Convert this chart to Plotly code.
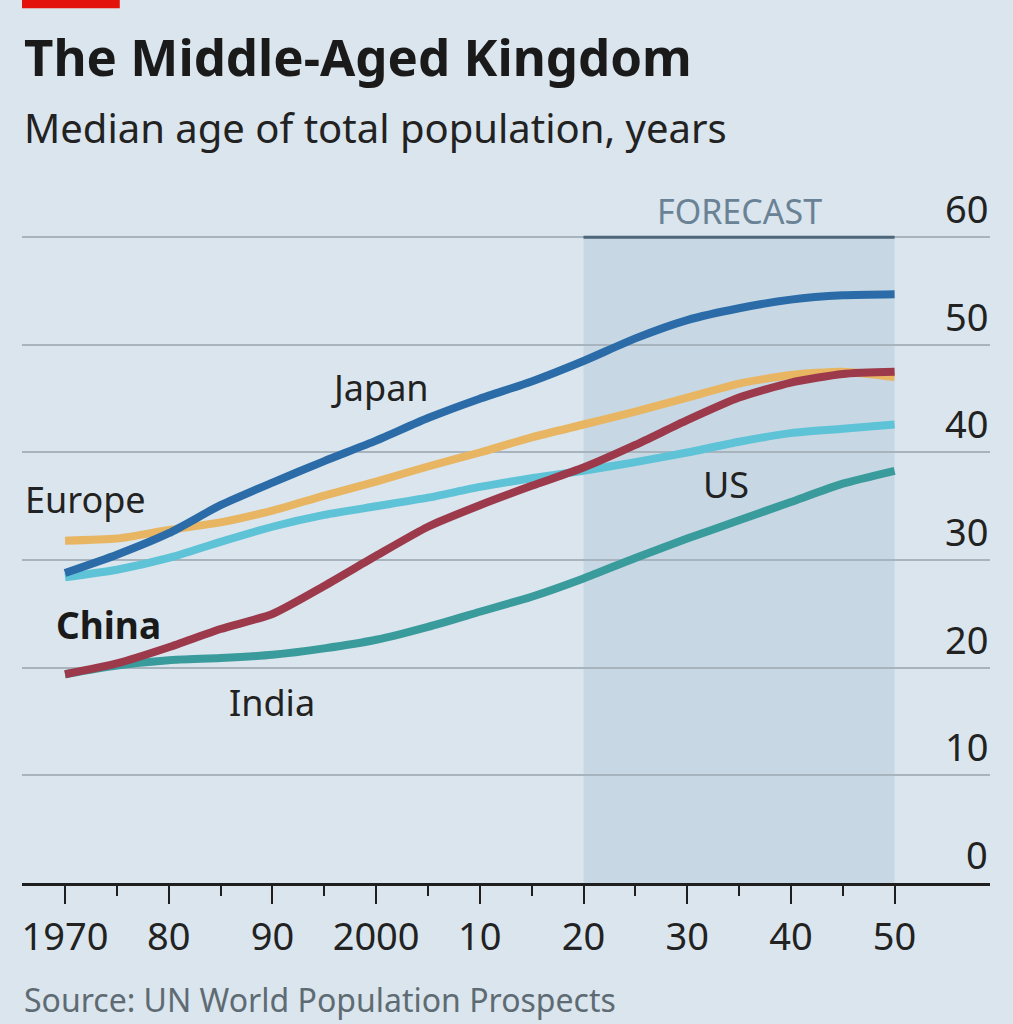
import plotly.graph_objects as go

# median age, years (2020 onwards is UN forecast)
years = [1970, 1975, 1980, 1985, 1990, 1995, 2000, 2005, 2010,
         2015, 2020, 2025, 2030, 2035, 2040, 2045, 2050]
india = [19.4, 20.2, 20.7, 20.9, 21.2, 21.8, 22.6, 23.8, 25.2,
         26.6, 28.3, 30.2, 32.0, 33.7, 35.4, 37.1, 38.3]
us = [28.4, 29.1, 30.2, 31.7, 33.1, 34.2, 35.0, 35.8, 36.8,
      37.6, 38.3, 39.1, 40.0, 41.0, 41.8, 42.2, 42.6]
europe = [31.8, 32.0, 32.8, 33.5, 34.6, 36.0, 37.3, 38.7, 40.0,
          41.4, 42.6, 43.8, 45.1, 46.4, 47.2, 47.5, 47.0]
japan = [28.8, 30.5, 32.5, 35.1, 37.2, 39.2, 41.1, 43.2, 45.0,
         46.6, 48.5, 50.6, 52.3, 53.4, 54.2, 54.6, 54.7]
china = [19.4, 20.4, 21.9, 23.6, 25.0, 27.6, 30.4, 33.1, 35.1,
         36.9, 38.6, 40.7, 43.0, 45.1, 46.5, 47.3, 47.5]

decades = [1970, 1980, 1990, 2000, 2010, 2020, 2030, 2040, 2050]
decade_labels = ["1970", "80", "90", "2000", "10", "20", "30", "40", "50"]
half_decades = [1975, 1985, 1995, 2005, 2015, 2025, 2035, 2045]
y_ticks = [0, 10, 20, 30, 40, 50, 60]
forecast_start, forecast_end = 2020, 2050

BG = "#dae5ed"
SHADE = "#c7d8e4"
FONT = "Noto Sans"

series = [
    ("India", india, "#3a9b9c"),
    ("US", us, "#5ec3d6"),
    ("Europe", europe, "#e8b562"),
    ("Japan", japan, "#2b6ca8"),
    ("China", china, "#9c3a4b"),
]

fig = go.Figure()
for name, vals, col in series:
    fig.add_trace(go.Scatter(x=years, y=vals, mode="lines", name=name,
                             line=dict(color=col, width=8, shape="spline", smoothing=0.6)))

# forecast band
fig.add_shape(type="rect", x0=forecast_start, x1=forecast_end, y0=0, y1=60,
              fillcolor=SHADE, line_width=0, layer="below")
fig.add_shape(type="line", x0=forecast_start, x1=forecast_end, y0=60, y1=60,
              line=dict(color="#4d667a", width=3))
# red tag top-left
fig.add_shape(type="rect", xref="paper", yref="paper", x0=0, x1=0.101,
              y0=1.348, y1=1.37, fillcolor="#e3120b", line_width=0)

ann = []
for v in y_ticks:
    ann.append(dict(x=1, xref="paper", y=v, yref="y", text=str(v), showarrow=False,
                    xanchor="right", yanchor="bottom", yshift=1,
                    font=dict(size=38, color="#222222")))

lab = dict(showarrow=False, font=dict(family=FONT, size=36, color="#222222"))
ann += [
    dict(x=2000.4, y=46.0, text="Japan", **lab),
    dict(x=1965.9, y=35.6, text="Europe", xanchor="left", **lab),
    dict(x=1968.9, y=24.0, text="<b>China</b>", xanchor="left", showarrow=False,
         font=dict(family=FONT, size=37, color="#1a1a1a")),
    dict(x=1990, y=16.8, text="India", **lab),
    dict(x=2033.7, y=37.0, text="US", **lab),
    dict(x=2035, y=1.035, yref="paper", text="FORECAST", showarrow=False,
         yanchor="middle", font=dict(family=FONT, size=34, color="#6a8295")),
    dict(x=0, xref="paper", y=1.274, yref="paper", text="<b>The Middle-Aged Kingdom</b>",
         xanchor="left", yanchor="middle", showarrow=False,
         font=dict(family=FONT, size=51, color="#1a1a1a")),
    dict(x=0, xref="paper", y=1.164, yref="paper", text="Median age of total population, years",
         xanchor="left", yanchor="middle", showarrow=False,
         font=dict(family=FONT, size=40, color="#222222")),
    dict(x=0, xref="paper", y=-0.18, yref="paper", text="Source: UN World Population Prospects",
         xanchor="left", yanchor="middle", showarrow=False,
         font=dict(family=FONT, size=32, color="#5f6b73")),
]

fig.update_layout(
    width=1013, height=1024,
    margin=dict(l=22, r=23, t=234, b=141),
    paper_bgcolor=BG, plot_bgcolor=BG,
    showlegend=False,
    font=dict(family=FONT, color="#222222"),
    annotations=ann,
)
fig.update_xaxes(range=[1965.85, 2059.2], showgrid=False, zeroline=False,
                 showline=True, linecolor="#1f1f1f", linewidth=3,
                 tickvals=decades, ticktext=decade_labels, ticks="outside",
                 ticklen=18, tickwidth=2, tickcolor="#1f1f1f",
                 tickfont=dict(size=38, color="#222222"),
                 minor=dict(tickvals=half_decades, ticks="outside", ticklen=10,
                            tickwidth=2, tickcolor="#1f1f1f"))
fig.update_yaxes(range=[0, 60.3], tickvals=y_ticks[1:], showticklabels=False,
                 showgrid=True, gridcolor="#a7b4be", gridwidth=2, zeroline=False)

fig.write_html("out.html", config={"displayModeBar": False},
               post_script="document.body.style.margin='0';")
